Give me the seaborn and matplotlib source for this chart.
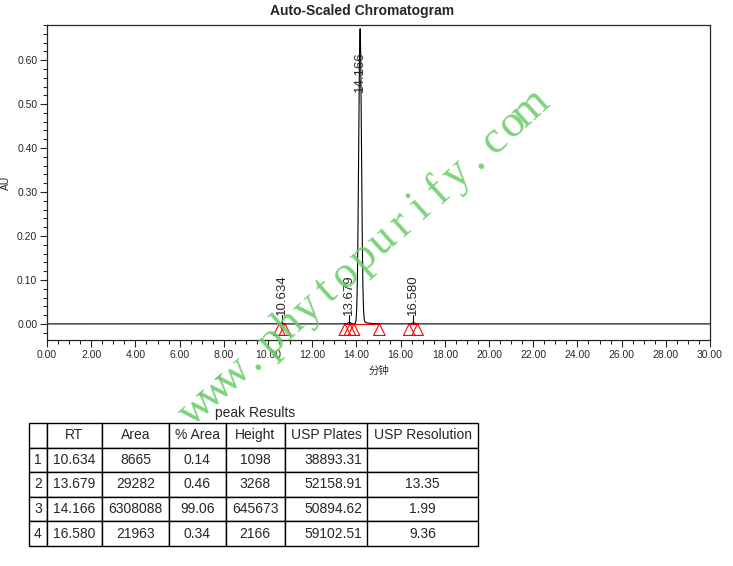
import numpy as np
import pandas as pd
import seaborn as sns
import matplotlib.pyplot as plt
from matplotlib.ticker import MultipleLocator, FormatStrFormatter

# --- peak data ---
rt = [10.634, 13.679, 14.166, 16.580]
area = [8665, 29282, 6308088, 21963]
pct_area = [0.14, 0.46, 99.06, 0.34]
height = [1098, 3268, 645673, 2166]
usp_plates = [38893.31, 52158.91, 50894.62, 59102.51]
usp_resolution = ['', '13.35', '1.99', '9.36']

# peak apex (AU)
trace_height = [0.0012, 0.0034, 0.665, 0.0023]
label_y = [0.021, 0.021, 0.528, 0.021]

# integration start/end markers (min)
marker_x = [10.51, 10.77, 13.48, 13.71, 13.89, 15.04, 16.39, 16.77]
baseline_segments = [(10.51, 10.77), (13.48, 13.71), (13.71, 15.04), (16.39, 16.77)]

sns.set_style('ticks')
plt.rcParams['font.family'] = ['Liberation Sans', 'Noto Sans CJK SC']
plt.rcParams['axes.linewidth'] = 0.9

# --- trace built from the peak table (gaussian, width from plate count) ---
t = np.linspace(0, 30, 6001)
signal = np.zeros_like(t)
for r, h, n in zip(rt, trace_height, usp_plates):
    sigma = r / np.sqrt(n)
    signal += h * np.exp(-0.5 * ((t - r) / sigma) ** 2)
    tail = np.where(t > r, h * 0.012 * np.exp(-(t - r) / 0.25), 0)
    signal += tail
df = pd.DataFrame({'min': t, 'AU': signal})

fig = plt.figure(figsize=(7.33, 5.66), dpi=100)
ax = fig.add_axes([47 / 733, 1 - 340 / 566, 663 / 733, 315 / 566])

sns.lineplot(data=df, x='min', y='AU', color='black', linewidth=0.8, ax=ax)

for a, b in baseline_segments:
    ax.plot([a, b], [0.0, 0.0], color='red', linewidth=0.8)
sns.scatterplot(x=marker_x, y=[-0.013] * len(marker_x), marker='^', s=70,
                facecolor='none', edgecolor='red', linewidth=0.8, ax=ax)

for r, h, ly in zip(rt, trace_height, label_y):
    if ly < 0.1:
        ax.plot([r, r], [0.0, ly], color='black', linewidth=0.8)
    ax.text(r, ly, f'{r:.3f}', rotation=90, ha='center', va='bottom', fontsize=9.5)

ax.set_xlim(0, 30)
ax.set_ylim(-0.0366, 0.68)
ax.xaxis.set_major_locator(MultipleLocator(2))
ax.xaxis.set_minor_locator(MultipleLocator(0.5))
ax.yaxis.set_major_locator(MultipleLocator(0.1))
ax.yaxis.set_minor_locator(MultipleLocator(0.02))
ax.xaxis.set_major_formatter(FormatStrFormatter('%.2f'))
ax.yaxis.set_major_formatter(FormatStrFormatter('%.2f'))
ax.set_yticks(np.arange(0, 0.61, 0.1))
ax.tick_params(which='major', length=5, width=0.8, labelsize=7.5, pad=2)
ax.tick_params(which='minor', length=3, width=0.8)
ax.set_xlabel('分钟', fontsize=7.5, labelpad=4)
ax.set_ylabel('AU', fontsize=7.5, labelpad=4)
for s in ['top', 'right']:
    ax.spines[s].set_visible(True)

fig.text(362 / 733, 1 - 11 / 566, 'Auto-Scaled Chromatogram', ha='center', va='center',
         fontsize=10, fontweight='bold')

# --- results table ---
fig.text(255 / 733, 1 - 413 / 566, 'peak Results', ha='center', va='center', fontsize=10)
tax = fig.add_axes([29 / 733, 1 - 546 / 566, 449 / 733, 123 / 566])
tax.axis('off')
cols = ['', 'RT', 'Area', '% Area', 'Height', 'USP Plates', 'USP Resolution']
rows = []
for i in range(len(rt)):
    rows.append([str(i + 1), f'{rt[i]:.3f}', str(area[i]), f'{pct_area[i]:.2f}',
                 str(height[i]), f'{usp_plates[i]:.2f}', usp_resolution[i]])
widths = np.array([18, 55, 67, 56.5, 59.5, 82.5, 110.5])
tab = tax.table(cellText=rows, colLabels=cols, colWidths=list(widths / widths.sum()),
                cellLoc='center', bbox=[0, 0, 1, 1])
tab.auto_set_font_size(False)
for (r, c), cell in tab.get_celld().items():
    cell.set_fontsize(10)
    cell.set_linewidth(1.0)
    if c == 5 and r > 0:
        cell.set_text_props(ha='right')
        cell.PAD = 0.06

# --- watermark, evenly spaced letters along a diagonal ---
wm = 'www.phytopurify.com'
ang = np.deg2rad(42)
step = 25.0
x0, y0 = 364.0, 258.0
for k, ch in enumerate(wm):
    d = (k - (len(wm) - 1) / 2) * step
    px = x0 + d * np.cos(ang)
    py = y0 - d * np.sin(ang)
    fig.text(px / 733, 1 - py / 566, ch, rotation=42, ha='center', va='center',
             fontsize=33, family='Liberation Serif', color='#66cc66',
             alpha=0.85, zorder=10)

fig.savefig('out.png', dpi=100)
